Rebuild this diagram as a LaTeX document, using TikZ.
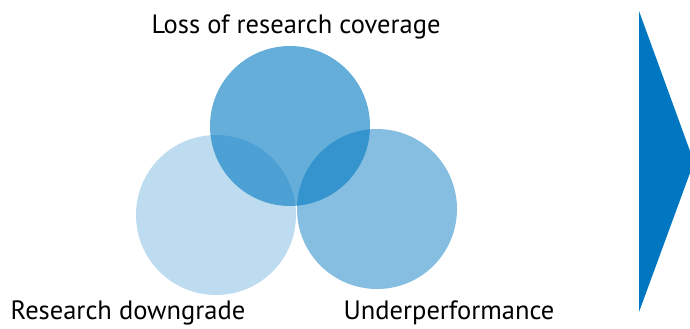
\documentclass[tikz,border=0pt]{standalone}
\usepackage{fontspec}
\setmainfont{PT Sans}
\definecolor{ubsblue}{HTML}{0078C1}
\definecolor{arrowblue}{HTML}{0077C0}
\begin{document}
\begin{tikzpicture}[x=1bp,y=-1bp]
    \tikzstyle{bubble}=[circle,fill=ubsblue,minimum size=160bp,inner sep=0pt]
    \tikzstyle{label}=[anchor=base,font=\fontsize{26.5bp}{30bp}\selectfont,text=black]
    \useasboundingbox (0,0) rectangle (690,328);
    \node[bubble,fill opacity=0.26] (downgrade) at (216,215) {};
    \node[bubble,fill opacity=0.48] (underperf) at (377,209) {};
    \node[bubble,fill opacity=0.6] (coverage) at (290,126) {};
    \node[label] (coveragetext) at (296,33) {Loss of research coverage};
    \node[label] (downgradetext) at (128,319) {Research downgrade};
    \node[label] (underperftext) at (449,319) {Underperformance};
    \fill[arrowblue] (639,11) -- (694,162) -- (639,312) -- cycle;
\end{tikzpicture}
\end{document}
